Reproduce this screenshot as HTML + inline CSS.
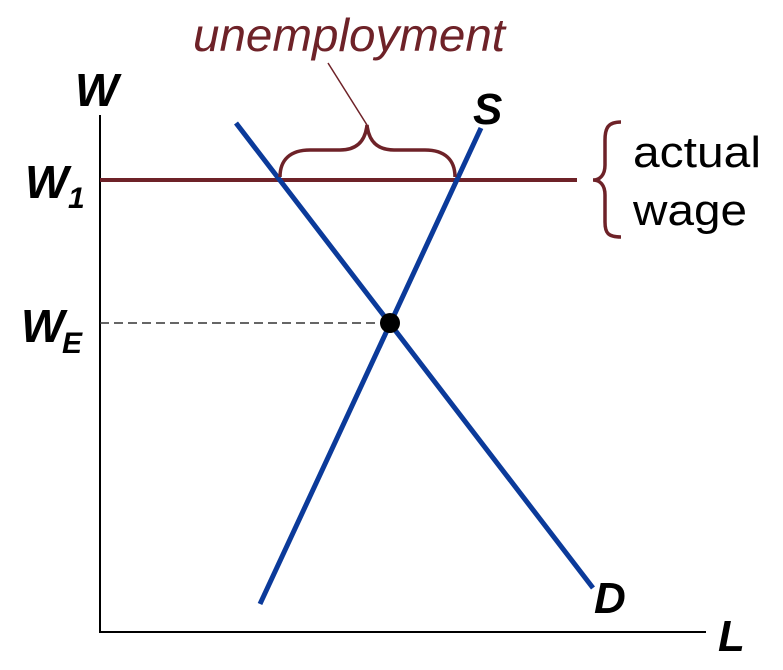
<!DOCTYPE html>
<html><head><style>body{margin:0;background:#fff}</style></head><body>
<svg width="783" height="670" viewBox="0 0 783 670" xmlns="http://www.w3.org/2000/svg" style="display:block">
<g font-family="Liberation Sans, sans-serif">
<line x1="100" y1="115" x2="100" y2="633" stroke="#000" stroke-width="2"/>
<line x1="99" y1="632" x2="706" y2="632" stroke="#000" stroke-width="2"/>
<line x1="100" y1="323" x2="390" y2="323" stroke="#333" stroke-width="1.5" stroke-dasharray="9,5"/>
<line x1="100" y1="180" x2="577" y2="180" stroke="#6e2228" stroke-width="4"/>
<line x1="236" y1="123" x2="593" y2="588" stroke="#0b3a9a" stroke-width="5"/>
<line x1="260" y1="604" x2="481" y2="128" stroke="#0b3a9a" stroke-width="5"/>
<circle cx="390" cy="323" r="10" fill="#000"/>
<path d="M280 177 C280 160 290 150 310 150 L340 150 C355 150 365 143 367 125 C369 143 379 150 394 150 L425 150 C445 150 455 160 455 177" fill="none" stroke="#6e2228" stroke-width="3.5"/>
<line x1="367" y1="125" x2="328" y2="63" stroke="#6e2228" stroke-width="1.5"/>
<path d="M621 122 C608 122 605 128 605 140 L605 165 C605 175 600 180 593 180 C600 180 605 185 605 195 L605 222 C605 233 608 237 621 237" fill="none" stroke="#6e2228" stroke-width="3.5"/>
<text x="193" y="51" font-size="46" font-style="italic" fill="#6e2228" textLength="312" lengthAdjust="spacingAndGlyphs">unemployment</text>
<text x="633" y="167" font-size="44" fill="#000" textLength="128" lengthAdjust="spacingAndGlyphs">actual</text>
<text x="633" y="225" font-size="44" fill="#000" textLength="114" lengthAdjust="spacingAndGlyphs">wage</text>
<g font-weight="bold" font-style="italic" fill="#000">
<text x="75" y="106" font-size="46">W</text>
<text x="25" y="198" font-size="46">W</text>
<text x="68" y="208" font-size="30">1</text>
<text x="21" y="342" font-size="46">W</text>
<text x="62" y="353" font-size="30">E</text>
<text x="473" y="124" font-size="44">S</text>
<text x="594" y="613" font-size="44">D</text>
<text x="718" y="651" font-size="44">L</text>
</g>
</g>
</svg>
</body></html>
